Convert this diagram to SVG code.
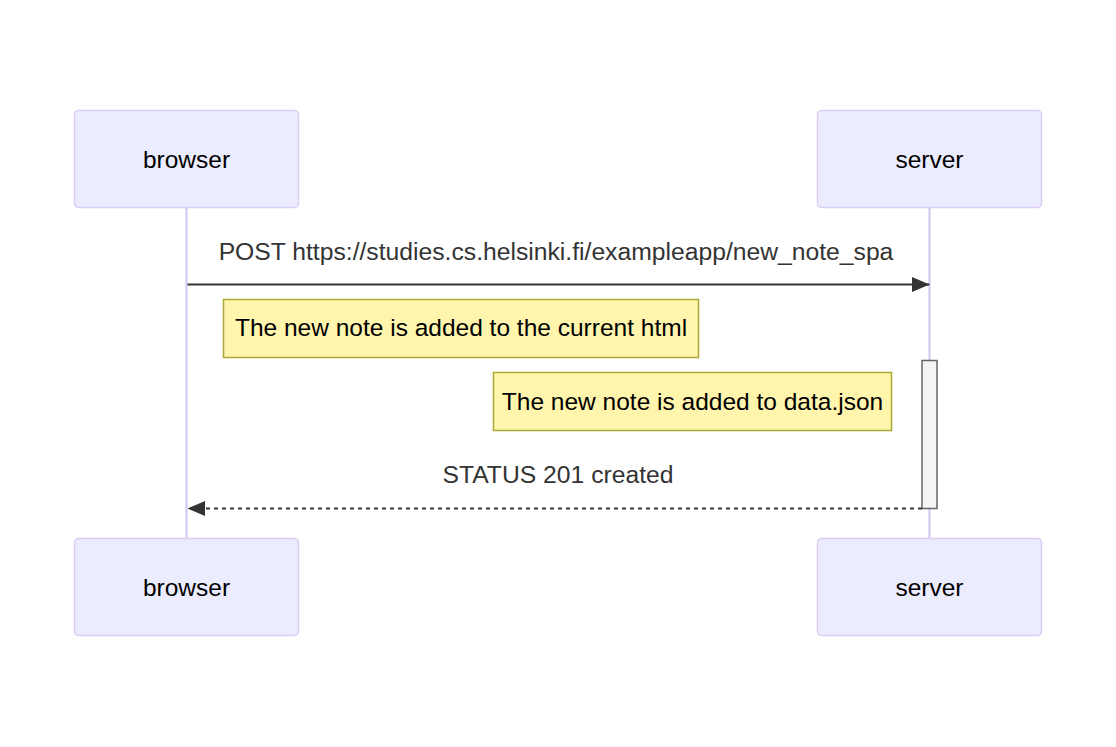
<svg xmlns="http://www.w3.org/2000/svg" width="1116" height="747" viewBox="0 0 1116 747">
<style>
  .actor { fill: #ececff; stroke: #dacef3; stroke-width: 1.5; }
  .actor-text { font-family: "Liberation Sans", Arial, sans-serif; font-size: 24.5px; fill: #000; text-anchor: middle; }
  .lifeline { stroke: #dacef3; stroke-width: 2.5; }
  .note { fill: #fff5ad; stroke: #aaaa33; stroke-width: 1.5; }
  .note-text { font-family: "Liberation Sans", Arial, sans-serif; font-size: 24.5px; fill: #000; text-anchor: middle; }
  .msg { stroke: #333; stroke-width: 2; fill: none; }
  .msg-dashed { stroke-dasharray: 4 4; }
  .msg-text { font-family: "Liberation Sans", Arial, sans-serif; font-size: 24.7px; fill: #333; text-anchor: middle; }
  .activation { fill: #f4f4f4; stroke: #666; stroke-width: 1.5; }
</style>
<defs>
  <marker id="arrowhead" markerUnits="userSpaceOnUse" markerWidth="18" markerHeight="16" refX="17.5" refY="7.5" orient="auto">
    <path d="M0,0 L17.5,7.5 L0,15 z" fill="#333"/>
  </marker>
</defs>
<rect width="1116" height="747" fill="#ffffff"/>
<g id="lifelines">
  <line class="lifeline" x1="186.5" y1="207" x2="186.5" y2="538"/>
  <line class="lifeline" x1="929.5" y1="207" x2="929.5" y2="538"/>
</g>
<g id="actor-browser-top">
  <rect class="actor" x="74.5" y="110.5" width="224" height="97" rx="4" ry="4"/>
  <text class="actor-text" x="186.5" y="168">browser</text>
</g>
<g id="actor-server-top">
  <rect class="actor" x="817.5" y="110.5" width="224" height="97" rx="4" ry="4"/>
  <text class="actor-text" x="929.5" y="168">server</text>
</g>
<g id="actor-browser-bottom">
  <rect class="actor" x="74.5" y="538.5" width="224" height="97" rx="4" ry="4"/>
  <text class="actor-text" x="186.5" y="596">browser</text>
</g>
<g id="actor-server-bottom">
  <rect class="actor" x="817.5" y="538.5" width="224" height="97" rx="4" ry="4"/>
  <text class="actor-text" x="929.5" y="596">server</text>
</g>
<g id="activation-server">
  <rect class="activation" x="922" y="360.5" width="15" height="148"/>
</g>
<g id="note-browser">
  <rect class="note" x="223.5" y="299.5" width="475" height="58"/>
  <text class="note-text" x="461" y="336">The new note is added to the current html</text>
</g>
<g id="note-server">
  <rect class="note" x="493.5" y="372.5" width="398" height="58"/>
  <text class="note-text" x="692.5" y="410">The new note is added to data.json</text>
</g>
<g id="connectors">
  <line class="msg" x1="187.5" y1="284.5" x2="929.5" y2="284.5" marker-end="url(#arrowhead)"/>
  <text class="msg-text" x="556" y="260">POST https://studies.cs.helsinki.fi/exampleapp/new_note_spa</text>
  <line class="msg msg-dashed" x1="922" y1="508.5" x2="187.5" y2="508.5" marker-end="url(#arrowhead)"/>
  <text class="msg-text" x="558" y="483">STATUS 201 created</text>
</g>
</svg>
